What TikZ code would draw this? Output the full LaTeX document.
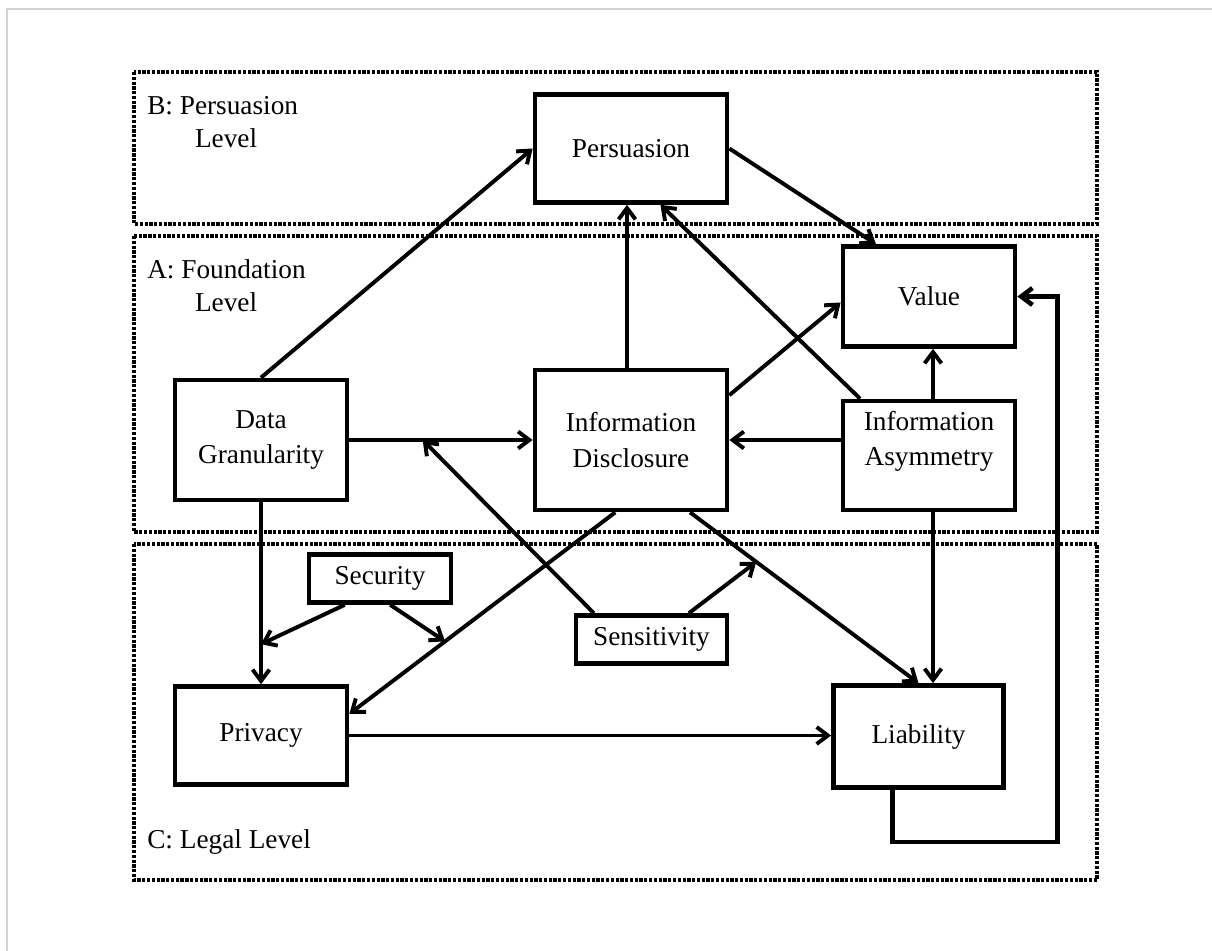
\documentclass[tikz,border=0pt]{standalone}
\usepackage{fontspec}
\setmainfont{Liberation Serif}
\usetikzlibrary{shapes,arrows,arrows.meta,calc}

\begin{document}
\begin{tikzpicture}[x=0.025cm, y=-0.025cm]
		\tikzstyle {level} = [line width=2.5pt, dash pattern=on 2.3pt off 1.1pt]
		\tikzstyle {level label} = [anchor=west, align=left, inner sep=0pt, font=\fontsize{19.4}{23.4}\selectfont]
		\tikzstyle {box text} = [align=center, inner sep=0pt, font=\fontsize{19.4}{25}\selectfont]
		\tikzstyle {box} = [box text, draw, line width=3.3pt]
		\tikzstyle {link} = [line width=2.8pt, -{Straight Barb[length=8pt,width=12pt]}]

		\useasboundingbox (0,0) rectangle (1212,951);
		\draw[gray!35, line width=0.8pt] (7,951) -- (7,9) -- (1212,9);

		% levels
		\draw[level] (134,72) rectangle (1097,224);
		\draw[level] (134,236) rectangle (1097,532);
		\draw[level] (134,544) rectangle (1097,880);
		\node[level label] (lvlB) at (147,122) {B: Persuasion\\\hspace*{1.75em}Level};
		\node[level label] (lvlA) at (147,286) {A: Foundation\\\hspace*{1.75em}Level};
		\node[level label] (lvlC) at (147,842) {C: Legal Level};

		% boxes
		\node[box, minimum width=4.8cm, minimum height=2.7cm] (pers) at (631,148.5) {Persuasion};
		\node[box, minimum width=4.3cm, minimum height=2.5cm] (value) at (929,296.5) {Value};
		\node[box, minimum width=4.3cm, minimum height=3cm] (gran) at (261,440) {Data\\Granularity};
		\node[box, minimum width=4.8cm, minimum height=3.5cm] (discl) at (631,440) {Information\\Disclosure};
		\node[box, minimum width=4.3cm, minimum height=2.725cm] (asym) at (929,455.5) {};
		\node[box text] (asymtext) at (929,441) {Information\\Asymmetry};
		\node[box, minimum width=3.55cm, minimum height=1.2cm] (secur) at (380,578.5) {Security};
		\node[box, minimum width=3.78cm, minimum height=1.2cm] (sens) at (651.5,639.5) {Sensitivity};
		\node[box, minimum width=4.3cm, minimum height=2.45cm] (priv) at (261,735.5) {Privacy};
		\node[box, minimum width=4.25cm, minimum height=2.55cm] (liab) at (918.5,736.5) {Liability};

		\coordinate (discA) at ($(discl.south west)!.42!(discl.south east)$);
		\coordinate (discB) at ($(discl.south west)!.8!(discl.south east)$);
		\coordinate (privA) at ($(priv.north east)!.29!(priv.south east)$);

		% links
		\draw[link] (gran.north) -- (pers.west);
		\draw[link] (gran.east) -- (discl.west);
		\draw[link] ($(discl.north)+(-4,0)$) -- ($(pers.south)+(-4,0)$);
		\draw[link] (pers.east) -- ($(value.north west)!.2!(value.north east)$);
		\draw[link] ($(discl.north east)!.19!(discl.south east)$) -- ($(value.west)+(0,6)$);
		\draw[link] ($(asym.north)+(4,0)$) -- ($(value.south)+(4,0)$);
		\draw[link] (asym.west |- discl.east) -- (discl.east);
		\draw[link] ($(asym.north west)!.11!(asym.north east)$) -- ($(pers.south west)!.65!(pers.south east)$);
		\draw[link] ($(asym.south)+(4,0)$) -- ($(asym.south |- liab.north)+(4,0)$);
		\draw[link] (discB) -- (liab.north);
		\draw[link] (discA) -- (privA);
		\draw[link] (gran.south) -- (priv.north);
		\draw[link] (priv.east) -- (priv.east -| liab.west);
		\draw[link, line width=3.3pt] ($(liab.south west)!.35!(liab.south east)$) -- ++(0,52) -| ($(value.east)+(40,0)$) -- (value.east);

		\draw[link] ($(secur.south west)!.26!(secur.south east)$) -- ($(gran.south)!.78!(priv.north)$);
		\draw[link] ($(secur.south west)!.57!(secur.south east)$) -- ($(discA)!.64!(privA)$);
		\draw[link] ($(sens.north west)!.13!(sens.north east)$) -- ($(gran.east)!.4!(discl.west)$);
		\draw[link] ($(sens.north west)!.74!(sens.north east)$) -- ($(discB)!.29!(liab.north)$);

	\end{tikzpicture}
\end{document}
